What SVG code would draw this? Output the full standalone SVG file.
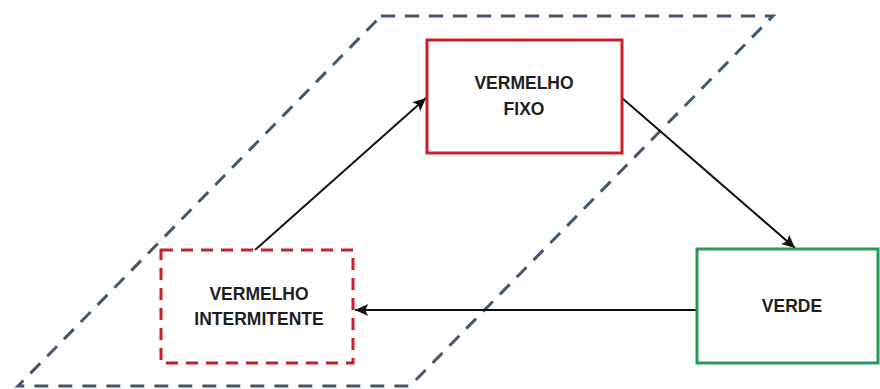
<svg xmlns="http://www.w3.org/2000/svg" width="880" height="389" viewBox="0 0 880 389">
<style>
.lbl{font-family:"Liberation Sans",Arial,sans-serif;font-weight:bold;font-size:17.5px;fill:#1e1e1e;text-anchor:middle}
.box{fill:#fff;stroke-width:3}
.conn{stroke:#111;stroke-width:2;fill:none;marker-end:url(#arr)}
</style>
<defs>
<marker id="arr" viewBox="0 0 16 16" refX="15" refY="8" markerWidth="15" markerHeight="15" markerUnits="userSpaceOnUse" orient="auto">
<path d="M1,1.5 L15,8 L1,14.5 L4,8 Z" fill="#111"/>
</marker>
</defs>
<rect width="880" height="389" fill="#fff"/>
<g id="zone">
<polygon points="381,16 773,16 410,386 18,386" fill="none" stroke="#41586f" stroke-width="3" stroke-dasharray="14,10"/>
</g>
<g id="connectors">
<line class="conn" x1="255" y1="250" x2="426" y2="98"/>
<line class="conn" x1="622" y1="98" x2="795" y2="248"/>
<line class="conn" x1="697" y1="310" x2="355" y2="310"/>
</g>
<g id="vermelho-fixo">
<rect class="box" x="427" y="40" width="195" height="113" stroke="#c8202a"/>
<text class="lbl" x="524" y="89">VERMELHO</text>
<text class="lbl" x="524" y="115">FIXO</text>
</g>
<g id="vermelho-intermitente">
<rect class="box" x="161" y="250" width="192" height="113" stroke="#c8202a" stroke-dasharray="12,8"/>
<text class="lbl" x="259" y="300">VERMELHO</text>
<text class="lbl" x="259" y="325">INTERMITENTE</text>
</g>
<g id="verde">
<rect class="box" x="697" y="249" width="181" height="114" stroke="#24995a"/>
<text class="lbl" x="792" y="312">VERDE</text>
</g>
</svg>
